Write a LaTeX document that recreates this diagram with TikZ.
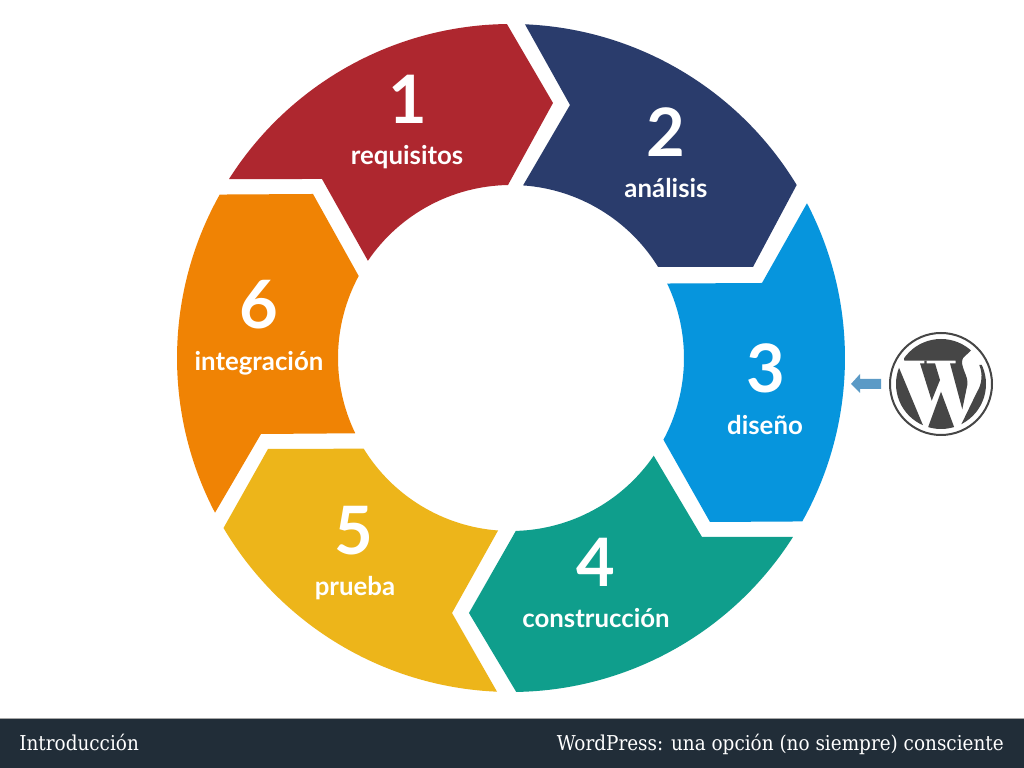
\documentclass[tikz,border=0pt]{standalone}
\usepackage{fontspec}
\setmainfont{Lato}
\newfontfamily\slabfont{DejaVu Serif Condensed}
\definecolor{rojo}{HTML}{AE272F}
\definecolor{marino}{HTML}{2A3C6C}
\definecolor{azul}{HTML}{0695DD}
\definecolor{verde}{HTML}{0F9E8C}
\definecolor{amarillo}{HTML}{EDB51A}
\definecolor{naranja}{HTML}{F08304}
\definecolor{barra}{HTML}{212D38}
\definecolor{logo}{HTML}{464646}
\definecolor{flecha}{HTML}{5B9AC6}
\tikzset{
  numero/.style={anchor=base, inner sep=0pt, text=white, font=\fontsize{38}{38}\selectfont\bfseries},
  etapa/.style={anchor=base, inner sep=0pt, text=white, font=\fontsize{14.7}{15}\selectfont\bfseries},
  pie/.style={inner sep=0pt, text=white, font=\fontsize{11.65}{12}\slabfont}
}
\begin{document}
\begin{tikzpicture}[scale=0.02]
    % Page and bottom bar
    \useasboundingbox (-511,-410) rectangle (513,358);
    \fill[white] (-511,-410) rectangle (513,358);
    \fill[barra] (-511,-410) rectangle (513,-360);
    \draw[gray!70, line width=0.4pt] (-511,-360) -- (513,-360);

    % Ring segments, clockwise from the red one
    \fill[rojo] (147.6:334) arc (147.6:90.7:334) -- (42,255) -- (91:173) arc (91:145.8:173) -- (-189,179) -- cycle;
    \fill[marino] (87.6:334) arc (87.6:31.2:334) -- (242,91) -- (31.8:173) arc (31.8:86:173) -- (59,253) -- cycle;
    \fill[azul] (27.6:334) arc (27.6:-29.3:334) -- (199,-164) -- (-28.2:173) arc (-28.2:25.5:173) -- (251,75) -- cycle;
    \fill[verde] (-32.4:334) arc (-32.4:-89.1:334) -- (-42,-255) -- (-88.4:173) arc (-88.4:-34.4:173) -- (191,-179) -- cycle;
    \fill[amarillo] (267.6:334) arc (267.6:210.6:334) -- (-243,-91) -- (211.6:173) arc (211.6:265.7:173) -- (-59,-255) -- cycle;
    \fill[naranja] (207.6:334) arc (207.6:150.7:334) -- (-198,164) -- (151.7:173) arc (151.7:205.8:173) -- (-250,-76) -- cycle;

    % Numbers and stage names
    \node[numero] (n1) at (-103,234) {1};
    \node[etapa] (e1) at (-104,193) {requisitos};
    \node[numero] (n2) at (155,201) {2};
    \node[etapa] (e2) at (155,160) {análisis};
    \node[numero] (n3) at (255,-35) {3};
    \node[etapa] (e3) at (254,-77) {diseño};
    \node[numero] (n4) at (85,-229) {4};
    \node[etapa] (e4) at (85,-270) {construcción};
    \node[numero] (n5) at (-157,-197) {5};
    \node[etapa] (e5) at (-156,-238) {prueba};
    \node[numero] (n6) at (-252,29) {6};
    \node[etapa] (e6) at (-252,-13) {integración};

    % Small arrow towards the blue segment
    \fill[flecha] (370,-21) -- (349,-21) -- (349,-16) -- (340,-26) -- (349,-35) -- (349,-31) -- (370,-31) -- cycle;

    % WordPress logo
    \begin{scope}[shift={(430,-26)}]
      \draw[logo, line width=0.04cm] (0,0) circle (51);
      \begin{scope}
        \clip (0,0) circle (45);
        \fill[logo] (-36.7,23.3) -- (14.7,23.3) -- (14.7,20.7) -- (9,20.7) -- (21.3,-25.3) -- (26.3,-1)
          .. controls (28,8) and (18,18) .. (22,26) -- (31.3,34.7) -- (31,60) -- (-40,60) -- cycle;
        \fill[logo] (-16.7,23.4) -- (-14.3,23.4) -- (-14.3,20.7) -- (-6,20.7) -- (-1,4) -- (-9.3,-16.7) -- (-21,20.7) -- (-16.7,20.7) -- cycle;
        \fill[logo] (-42.7,18) -- (-17.7,-42) -- (-17.7,-60) -- (-60,-60) -- (-60,18) -- cycle;
        \fill[logo] (0,-7.7) -- (-12.7,-42.7) -- (-12.7,-60) -- (13,-60) -- (13,-42.7) -- cycle;
        \fill[logo] (38.3,19) .. controls (42,10) and (41,0) .. (36,-8) -- (20,-41) -- (20,-60) -- (60,-60) -- (60,19) -- cycle;
      \end{scope}
    \end{scope}

    % Footer texts
    \node[pie, anchor=base west] (izq) at (-492,-393) {Introducción};
    \node[pie, anchor=base east] (der) at (493,-393) {WordPress: una opción (no siempre) consciente};
\end{tikzpicture}
\end{document}
